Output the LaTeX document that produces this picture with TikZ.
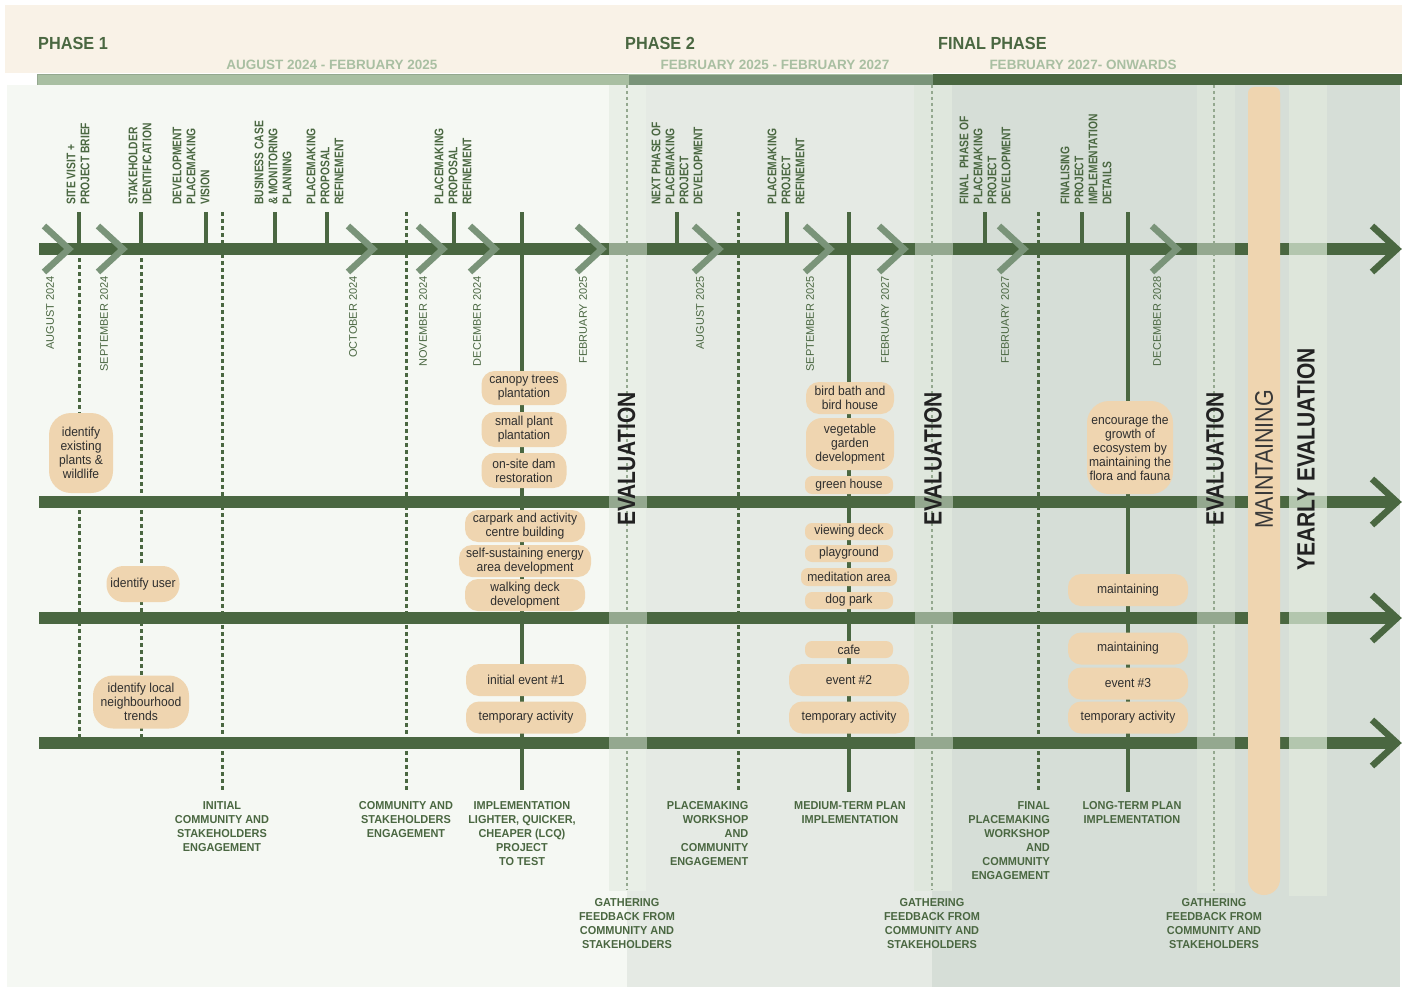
\documentclass[tikz,border=0pt]{standalone}
\usepackage{fontspec}
\setmainfont{Liberation Sans}
\newfontfamily\headfont[FakeStretch=0.93]{Liberation Sans}
\newfontfamily\tagfont[FakeStretch=0.82]{Liberation Sans}
\newfontfamily\lblfont[FakeStretch=0.95]{Liberation Sans}
\newfontfamily\bubfont[FakeStretch=0.93]{Liberation Sans}
\newfontfamily\bigfont[FakeStretch=0.84]{Liberation Sans}

\definecolor{dg}{HTML}{4A6741}
\definecolor{mg}{HTML}{7A9479}
\definecolor{lg}{HTML}{A9BFA2}
\definecolor{segA}{HTML}{94A88F}
\definecolor{segB}{HTML}{B3C6AE}
\definecolor{cream}{HTML}{F9F2E7}
\definecolor{bgone}{HTML}{F5F8F3}
\definecolor{bgtwo}{HTML}{E5EAE4}
\definecolor{bgthree}{HTML}{D6DED7}
\definecolor{stripA}{HTML}{E9EFE7}
\definecolor{stripB}{HTML}{DFE7DD}
\definecolor{stripC}{HTML}{DCE4DA}
\definecolor{stripD}{HTML}{DEE6DB}
\definecolor{peach}{HTML}{EFD5B0}
\definecolor{bubtxt}{HTML}{2E2E2E}
\definecolor{bigtxt}{HTML}{222222}

\tikzset{
  track/.style={line width=11.5pt, draw=dg},
  chev/.style={line width=6.5pt, draw=mg},
  endarrow/.style={line width=6.5pt, draw=dg},
  tickline/.style={line width=3.2pt, draw=dg},
  dotline/.style={line width=3pt, draw=dg, dash pattern=on 3.5pt off 3.5pt},
  evaldots/.style={line width=2.2pt, draw=segA, dash pattern=on 3pt off 3pt},
  bub/.style={fill=peach, text=bubtxt, rounded corners=13pt, inner sep=1pt, align=center,
    font=\bubfont\fontsize{13}{14}\selectfont},
  tag/.style={rotate=90, anchor=west, align=left, inner sep=0pt, text=dg,
    font=\tagfont\bfseries\fontsize{12.5}{14}\selectfont},
  month/.style={rotate=90, anchor=east, inner sep=0pt, text=dg,
    font=\fontsize{11}{13}\selectfont},
  lbl/.style={anchor=north, align=center, inner sep=0pt, text=dg,
    font=\lblfont\bfseries\fontsize{11.5}{14}\selectfont},
  bigword/.style={rotate=90, inner sep=0pt, text=bigtxt,
    font=\bigfont\bfseries\fontsize{25}{28}\selectfont},
  phasehead/.style={anchor=base west, inner sep=0pt, text=dg,
    font=\headfont\bfseries\fontsize{17.5}{20}\selectfont},
  phasedate/.style={anchor=base, inner sep=0pt, text=lg,
    font=\bfseries\fontsize{13.5}{16}\selectfont}
}

\begin{document}
\begin{tikzpicture}[x=1pt, y=-1pt]
\useasboundingbox (0,0) rectangle (1407,987);
\fill[white] (0,0) rectangle (1407,987);

% header band
\fill[cream] (5,5) rectangle (1402,73);
\node[phasehead] (p1) at (38,49.5) {PHASE 1};
\node[phasedate] (d1) at (332,69.5) {AUGUST 2024 - FEBRUARY 2025};
\node[phasehead] (p2) at (625,49.5) {PHASE 2};
\node[phasedate] (d2) at (775,69.5) {FEBRUARY 2025 - FEBRUARY 2027};
\node[phasehead] (p3) at (938,49.5) {FINAL PHASE};
\node[phasedate] (d3) at (1083,69.5) {FEBRUARY 2027- ONWARDS};

% phase bars
\filldraw[fill=lg, draw=segA, line width=0.8pt] (37,74) rectangle (628,85);
\filldraw[fill=mg, draw=lg, line width=0.8pt] (628,74) rectangle (933,85);
\fill[dg] (933,74) rectangle (1402,85);

% phase panels
\fill[bgone] (7,85) rectangle (627,987);
\fill[bgtwo] (627,85) rectangle (932,987);
\fill[bgthree] (932,85) rectangle (1400,987);
\fill[stripA] (609,85) rectangle (646,891);
\fill[stripB] (914,85) rectangle (952,891);
\fill[stripC] (1197,85) rectangle (1235,893);
\fill[stripD] (1289,85) rectangle (1327,896);

% evaluation guides
\coordinate (ev1t) at (627,85);  \coordinate (ev1b) at (627,890);
\coordinate (ev2t) at (932,85);  \coordinate (ev2b) at (932,890);
\coordinate (ev3t) at (1214,85); \coordinate (ev3b) at (1214,891);
\draw[evaldots] (ev1t) -- (ev1b);
\draw[evaldots] (ev2t) -- (ev2b);
\draw[evaldots] (ev3t) -- (ev3b);

% dotted engagement guides
\draw[dotline] (79,258) -- (79,737);
\draw[dotline] (141,258) -- (141,737);
\foreach \x in {222,406,738,1038}
  \draw[dotline] (\x,212) -- (\x,790);

% milestone ticks
\foreach \x in {79,141,206,275,327,454,677,787,985,1082}
  \draw[tickline] (\x,212) -- (\x,244);

% implementation stems
\coordinate (impA) at (522,212);  \coordinate (impAb) at (522,790);
\coordinate (impB) at (849,212);  \coordinate (impBb) at (849,792);
\coordinate (impC) at (1128,212); \coordinate (impCb) at (1128,792);
\draw[tickline] (impA) -- (impAb);
\draw[tickline] (impB) -- (impBb);
\draw[tickline] (impC) -- (impCb);

% timeline tracks
\foreach \y in {249,502,618,743} {
  \draw[track] (39,\y) -- (1394,\y);
  \fill[segA] (609,{\y-5.75}) rectangle (647,{\y+5.75});
  \fill[segA] (915,{\y-5.75}) rectangle (953,{\y+5.75});
  \fill[segA] (1197,{\y-5.75}) rectangle (1235,{\y+5.75});
  \fill[segB] (1289,{\y-5.75}) rectangle (1327,{\y+5.75});
  \draw[endarrow] (1372,{\y-23}) -- (1397,\y) -- (1372,{\y+23});
}

% month chevrons
\foreach \t in {74,128,378,448,500,607,724,835,909,1029,1182}
  \draw[chev] ({\t-30},226) -- ({\t-5},249) -- ({\t-30},272);

% maintaining band
\fill[peach, rounded corners=16pt] (1248,87) rectangle (1280,895);
\fill[peach, rounded corners=6pt] (1248,87) rectangle (1280,200);

% month labels
\node[month] (m1) at (50,276) {AUGUST 2024};
\node[month] (m2) at (104,276) {SEPTEMBER 2024};
\node[month] (m3) at (353,276) {OCTOBER 2024};
\node[month] (m4) at (423,276) {NOVEMBER 2024};
\node[month] (m5) at (477,276) {DECEMBER 2024};
\node[month] (m6) at (583,276) {FEBRUARY 2025};
\node[month] (m7) at (700,276) {AUGUST 2025};
\node[month] (m8) at (810,276) {SEPTEMBER 2025};
\node[month] (m9) at (885,276) {FEBRUARY 2027};
\node[month] (m10) at (1005,276) {FEBRUARY 2027};
\node[month] (m11) at (1157,276) {DECEMBER 2028};

% milestone labels
\node[tag] (s1) at (78,205) {SITE VISIT +\\PROJECT BRIEF};
\node[tag] (s2) at (140,205) {STAKEHOLDER\\IDENTIFICATION};
\node[tag] (s3) at (191,205) {DEVELOPMENT\\PLACEMAKING\\VISION};
\node[tag] (s4) at (273,205) {BUSINESS CASE\\\& MONITORING\\PLANNING};
\node[tag] (s5) at (325,205) {PLACEMAKING\\PROPOSAL\\REFINEMENT};
\node[tag] (s6) at (453,205) {PLACEMAKING\\PROPOSAL\\REFINEMENT};
\node[tag] (s7) at (677,205) {NEXT PHASE OF\\PLACEMAKING\\PROJECT\\DEVELOPMENT};
\node[tag] (s8) at (786,205) {PLACEMAKING\\PROJECT\\REFINEMENT};
\node[tag] (s9) at (985,205) {FINAL\ \ PHASE OF\\PLACEMAKING\\PROJECT\\DEVELOPMENT};
\node[tag] (s10) at (1086,205) {FINALISING\\PROJECT\\IMPLEMENTATION\\DETAILS};

% phase 1 activities
\node[bub, rounded corners=22pt, minimum width=64pt, minimum height=80pt] (a1) at (81,453) {identify\\existing\\plants \&\\wildlife};
\node[bub, rounded corners=17pt, minimum width=73pt, minimum height=36pt] (a2) at (143,584) {identify user};
\node[bub, rounded corners=20pt, minimum width=96pt, minimum height=53pt] (a3) at (141,702) {identify local\\neighbourhood\\trends};
\node[bub, minimum width=85pt, minimum height=34pt] (b1) at (524,388) {canopy trees\\plantation};
\node[bub, minimum width=85pt, minimum height=35pt] (b2) at (524,429.5) {small plant\\plantation};
\node[bub, minimum width=85pt, minimum height=35pt] (b3) at (524,470.5) {on-site dam\\restoration};
\node[bub, minimum width=120pt, minimum height=32pt] (b4) at (525,526) {carpark and activity\\centre building};
\node[bub, minimum width=132pt, minimum height=32pt] (b5) at (525,561) {self-sustaining energy\\area development};
\node[bub, minimum width=120pt, minimum height=32pt] (b6) at (525,595) {walking deck\\development};
\node[bub, minimum width=120pt, minimum height=32pt] (b7) at (526,680) {initial event \#1};
\node[bub, minimum width=120pt, minimum height=32pt] (b8) at (526,717.5) {temporary activity};

% phase 2 activities
\node[bub, minimum width=88pt, minimum height=32pt] (c1) at (850,398) {bird bath and\\bird house};
\node[bub, rounded corners=16pt, minimum width=88pt, minimum height=52pt] (c2) at (850,444) {vegetable\\garden\\development};
\node[bub, rounded corners=7pt, minimum width=88pt, minimum height=18pt] (c3) at (849,485) {green house};
\node[bub, rounded corners=7pt, minimum width=88pt, minimum height=17pt] (c4) at (849,531.5) {viewing deck};
\node[bub, rounded corners=7pt, minimum width=88pt, minimum height=17pt] (c5) at (849,553.5) {playground};
\node[bub, rounded corners=7pt, minimum width=96pt, minimum height=18pt] (c6) at (849,577) {meditation area};
\node[bub, rounded corners=7pt, minimum width=88pt, minimum height=17pt] (c7) at (849,600.5) {dog park};
\node[bub, rounded corners=7pt, minimum width=88pt, minimum height=17pt] (c8) at (849,649.5) {cafe};
\node[bub, minimum width=120pt, minimum height=32pt] (c9) at (849,680) {event \#2};
\node[bub, minimum width=120pt, minimum height=32pt] (c10) at (849,717.5) {temporary activity};

% final phase activities
\node[bub, rounded corners=22pt, minimum width=86pt, minimum height=93pt] (f1) at (1130,447.5) {encourage the\\growth of\\ecosystem by\\maintaining the\\flora and fauna};
\node[bub, minimum width=120pt, minimum height=32pt] (f2) at (1128,590) {maintaining};
\node[bub, minimum width=120pt, minimum height=32pt] (f3) at (1128,648.5) {maintaining};
\node[bub, minimum width=120pt, minimum height=32pt] (f4) at (1128,683.5) {event \#3};
\node[bub, minimum width=120pt, minimum height=32pt] (f5) at (1128,717.5) {temporary activity};

% vertical captions
\node[bigword] (e1) at (626.5,459) {EVALUATION};
\node[bigword] (e2) at (933,459) {EVALUATION};
\node[bigword] (e3) at (1215,459) {EVALUATION};
\node[rotate=90, inner sep=0pt, text=bigtxt!90, font=\bigfont\fontsize{25.5}{28}\selectfont] (mt) at (1264,459.5) {MAINTAINING};
\node[bigword] (ye) at (1306,459.5) {YEARLY EVALUATION};

% engagement and implementation labels
\node[lbl] (l1) at (222,801) {INITIAL\\COMMUNITY AND\\STAKEHOLDERS\\ENGAGEMENT};
\node[lbl] (l2) at (406,801) {COMMUNITY AND\\STAKEHOLDERS\\ENGAGEMENT};
\node[lbl] (l3) at (522,801) {IMPLEMENTATION\\LIGHTER, QUICKER,\\CHEAPER (LCQ)\\PROJECT\\TO TEST};
\node[lbl, anchor=north east, align=right] (l4) at (748.5,801) {PLACEMAKING\\WORKSHOP\\AND\\COMMUNITY\\ENGAGEMENT};
\node[lbl] (l5) at (850,801) {MEDIUM-TERM PLAN\\IMPLEMENTATION};
\node[lbl, anchor=north east, align=right] (l6) at (1050,801) {FINAL\\PLACEMAKING\\WORKSHOP\\AND\\COMMUNITY\\ENGAGEMENT};
\node[lbl] (l7) at (1132,801) {LONG-TERM PLAN\\IMPLEMENTATION};
\node[lbl] (g1) at (627,898.5) {GATHERING\\FEEDBACK FROM\\COMMUNITY AND\\STAKEHOLDERS};
\node[lbl] (g2) at (932,898.5) {GATHERING\\FEEDBACK FROM\\COMMUNITY AND\\STAKEHOLDERS};
\node[lbl] (g3) at (1214,898.5) {GATHERING\\FEEDBACK FROM\\COMMUNITY AND\\STAKEHOLDERS};
\end{tikzpicture}
\end{document}
